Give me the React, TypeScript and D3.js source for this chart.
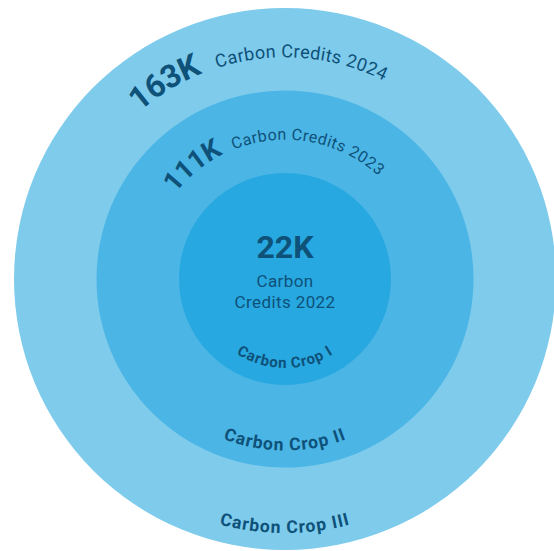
import React, { useEffect, useRef } from 'react';
import * as d3 from 'd3';

// rings from inside out
const crops = ['Carbon Crop I', 'Carbon Crop II', 'Carbon Crop III'];
const years = ['2022', '2023', '2024'];
const credits = [22, 111, 163]; // thousands
const ringColors = ['#27a8e0', '#4bb5e5', '#7ecbec'];

// where the curved title of each outer ring starts (degrees from top)
const titleStart = [0, -52, -41];

const W = 554;
const H = 551;
const textColor = '#0e5179';
const font = 'Roboto, "Noto Sans", sans-serif';

export default function App() {
  const svgRef = useRef<SVGSVGElement>(null);

  useEffect(() => {
    if (!svgRef.current) return;
    const svg = d3.select(svgRef.current);
    svg.selectAll('*').remove();

    const cx = 285;
    const cy = 279;

    const r = d3.scaleLinear().domain([0, crops.length - 1]).range([106, 271]);
    const fmt = (v: number) => `${v}K`;

    const g = svg.append('g').attr('transform', `translate(${cx},${cy})`);
    const defs = svg.append('defs');

    // circles, biggest first
    const idx = d3.range(crops.length).reverse();
    g.selectAll('circle')
      .data(idx)
      .join('circle')
      .attr('r', (i) => r(i))
      .attr('fill', (i) => ringColors[i]);

    // bottom labels along each circle
    crops.forEach((name, i) => {
      const rr = r(i) - 17;
      defs.append('path')
        .attr('id', `bot${i}`)
        .attr('d', `M${-rr},0 A${rr},${rr} 0 0 0 ${rr},0`);
      g.append('text')
        .style('font-family', font)
        .style('font-weight', 700)
        .style('font-size', i === 0 ? '15px' : '17.5px')
        .style('letter-spacing', i === 0 ? '0.8px' : '1px')
        .attr('fill', textColor)
        .append('textPath')
        .attr('href', `#bot${i}`)
        .attr('startOffset', '50%')
        .attr('text-anchor', 'middle')
        .text(name);
    });

    // center value
    g.append('text')
      .attr('y', -21)
      .attr('text-anchor', 'middle')
      .style('font-family', font)
      .style('font-weight', 700)
      .style('font-size', '32px')
      .attr('fill', textColor)
      .text(fmt(credits[0]));
    g.append('text')
      .attr('text-anchor', 'middle')
      .style('font-family', font)
      .style('font-size', '17px')
      .style('letter-spacing', '0.4px')
      .attr('fill', textColor)
      .selectAll('tspan')
      .data(['Carbon', `Credits ${years[0]}`])
      .join('tspan')
      .attr('x', 0)
      .attr('y', (_, k) => 8 + k * 21)
      .text((d) => d);

    // curved titles on the outer rings
    for (let i = 1; i < crops.length; i++) {
      const rr = (r(i) + r(i - 1)) / 2 - 8;
      defs.append('path')
        .attr('id', `top${i}`)
        .attr('d', `M${-rr},0 A${rr},${rr} 0 0 1 ${rr},0`);
      const offset = ((titleStart[i] + 90) * Math.PI / 180) * rr;
      const tp = g.append('text')
        .attr('fill', textColor)
        .style('font-family', font)
        .append('textPath')
        .attr('href', `#top${i}`)
        .attr('startOffset', offset);
      tp.append('tspan')
        .style('font-weight', 700)
        .style('font-size', i === 2 ? '32px' : '27px')
        .style('letter-spacing', '-0.5px')
        .text(fmt(credits[i]));
      tp.append('tspan')
        .attr('dx', i === 2 ? 16 : 12)
        .style('font-size', i === 2 ? '18px' : '16px')
        .style('letter-spacing', i === 2 ? '0.4px' : '0.5px')
        .text(`Carbon Credits ${years[i]}`);
    }
  }, []);

  return (
    <svg
      ref={svgRef}
      width={W}
      height={H}
      style={{ position: 'absolute', left: 0, top: 0, background: '#fff' }}
    />
  );
}
